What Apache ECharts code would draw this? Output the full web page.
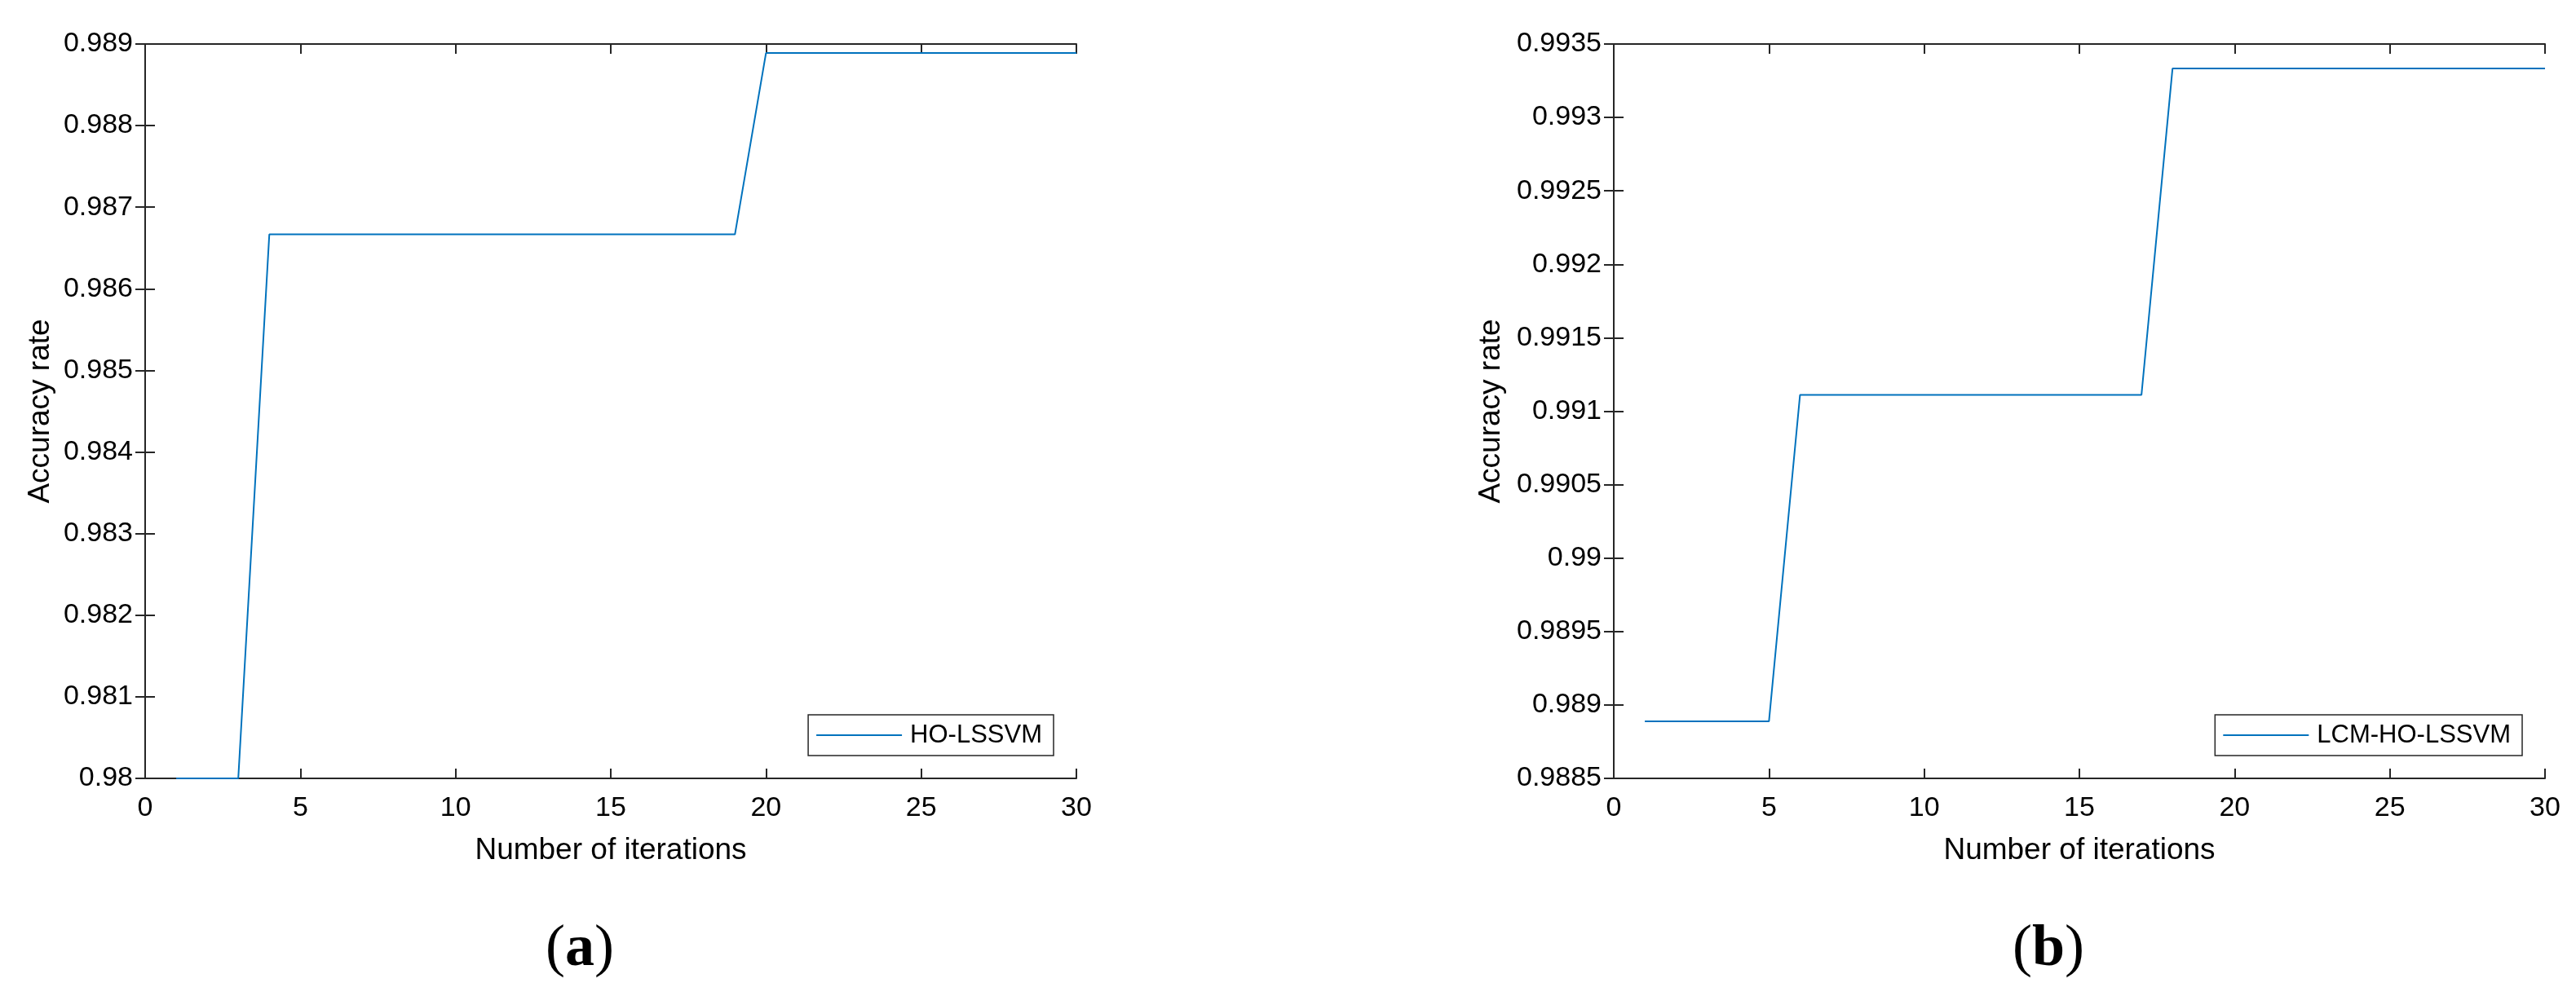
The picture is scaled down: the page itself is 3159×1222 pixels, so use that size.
<!DOCTYPE html>
<html>
<head>
<meta charset="utf-8">
<script src="https://cdn.jsdelivr.net/npm/echarts@6/dist/echarts.min.js"></script>
<style>
  html, body { margin: 0; padding: 0; background: #ffffff; }
  #chart { width: 3159px; height: 1222px; }
</style>
</head>
<body>
<div id="chart"></div>
<script>
// ---- Data ----
const iterations = [1, 2, 3, 4, 5, 6, 7, 8, 9, 10, 11, 12, 13, 14, 15, 16, 17, 18, 19, 20, 21, 22, 23, 24, 25, 26, 27, 28, 29, 30];

const hoLssvm = [
  0.98, 0.98, 0.98,
  0.986667, 0.986667, 0.986667, 0.986667, 0.986667, 0.986667, 0.986667, 0.986667,
  0.986667, 0.986667, 0.986667, 0.986667, 0.986667, 0.986667, 0.986667, 0.986667,
  0.988889, 0.988889, 0.988889, 0.988889, 0.988889, 0.988889, 0.988889, 0.988889,
  0.988889, 0.988889, 0.988889
];

const lcmHoLssvm = [
  0.988889, 0.988889, 0.988889, 0.988889, 0.988889,
  0.991111, 0.991111, 0.991111, 0.991111, 0.991111, 0.991111, 0.991111, 0.991111,
  0.991111, 0.991111, 0.991111, 0.991111,
  0.993333, 0.993333, 0.993333, 0.993333, 0.993333, 0.993333, 0.993333, 0.993333,
  0.993333, 0.993333, 0.993333, 0.993333, 0.993333
];

const seriesNames = ['HO-LSSVM', 'LCM-HO-LSSVM'];
const panelLabels = ['a', 'b'];
const xAxisTitle = 'Number of iterations';
const yAxisTitle = 'Accuracy rate';

const xRange = { min: 0, max: 30, interval: 5 };
const yRangeA = { min: 0.98, max: 0.989, interval: 0.001 };
const yRangeB = { min: 0.9885, max: 0.9935, interval: 0.0005 };

// ---- Styles ----
const FONT = '"Liberation Sans", Arial, Helvetica, sans-serif';
const AXIS_COLOR = '#262626';
const LINE_COLOR = '#0072BD';

const fmtY = v => String(parseFloat(Number(v).toFixed(4)));

function makeAxes(gridIndex, yr, yNameGap) {
  const axisLine = { show: true, lineStyle: { color: AXIS_COLOR, width: 2 } };
  const axisTick = { show: true, inside: true, length: 12, lineStyle: { color: AXIS_COLOR, width: 2 } };
  const xs = [
    {
      gridIndex, type: 'value', position: 'bottom',
      min: xRange.min, max: xRange.max, interval: xRange.interval,
      axisLine, axisTick, splitLine: { show: false },
      axisLabel: { show: true, margin: 20, color: '#000', fontFamily: FONT, fontSize: 34 },
      name: xAxisTitle, nameLocation: 'middle', nameGap: 70,
      nameTextStyle: { color: '#000', fontFamily: FONT, fontSize: 37 }
    },
    {
      gridIndex, type: 'value', position: 'top',
      min: xRange.min, max: xRange.max, interval: xRange.interval,
      axisLine, axisTick, splitLine: { show: false }, axisLabel: { show: false }
    }
  ];
  const ys = [
    {
      gridIndex, type: 'value', position: 'left',
      min: yr.min, max: yr.max, interval: yr.interval,
      axisLine, axisTick, splitLine: { show: false },
      axisLabel: { show: true, margin: 15, color: '#000', fontFamily: FONT, fontSize: 34, formatter: fmtY },
      name: yAxisTitle, nameLocation: 'middle', nameGap: yNameGap,
      nameTextStyle: { color: '#000', fontFamily: FONT, fontSize: 37 }
    },
    {
      gridIndex, type: 'value', position: 'right',
      min: yr.min, max: yr.max, interval: yr.interval,
      axisLine, axisTick, splitLine: { show: false }, axisLabel: { show: false }
    }
  ];
  return { xs, ys };
}

const axA = makeAxes(0, yRangeA, 110);
const axB = makeAxes(1, yRangeB, 132);

function pairs(xs, ys) { return xs.map((x, i) => [x, ys[i]]); }

function legendFor(name, rightPx) {
  return {
    data: [name],
    right: rightPx, top: 877,
    orient: 'horizontal',
    backgroundColor: '#ffffff',
    borderColor: AXIS_COLOR, borderWidth: 1.5, borderRadius: 0,
    padding: [8, 14, 8, 10],
    icon: 'rect', itemWidth: 105, itemHeight: 2,
    textStyle: { color: '#000', fontFamily: FONT, fontSize: 31, lineHeight: 34, padding: [0, 0, 0, 5] },
    selectedMode: false
  };
}

const chart = echarts.init(document.getElementById('chart'), null, { renderer: 'canvas' });

chart.setOption({
  backgroundColor: '#ffffff',
  animation: false,
  grid: [
    { left: 178, top: 54, width: 1142, height: 901 },
    { left: 1979, top: 54, width: 1142, height: 901 }
  ],
  xAxis: [...axA.xs, ...axB.xs],
  yAxis: [...axA.ys, ...axB.ys],
  legend: [legendFor(seriesNames[0], 3159 - 1292), legendFor(seriesNames[1], 3159 - 3093)],
  series: [
    {
      name: seriesNames[0], type: 'line', xAxisIndex: 0, yAxisIndex: 0,
      data: pairs(iterations, hoLssvm), showSymbol: false, symbol: 'none',
      lineStyle: { color: LINE_COLOR, width: 2 }, itemStyle: { color: LINE_COLOR }, z: 5
    },
    {
      name: seriesNames[1], type: 'line', xAxisIndex: 2, yAxisIndex: 2,
      data: pairs(iterations, lcmHoLssvm), showSymbol: false, symbol: 'none',
      lineStyle: { color: LINE_COLOR, width: 2 }, itemStyle: { color: LINE_COLOR }, z: 5
    }
  ],
  graphic: [
    {
      type: 'text', x: 711, y: 1165,
      style: {
        text: '{p|(}{b|' + panelLabels[0] + '}{p|)}',
        textAlign: 'center', textVerticalAlign: 'middle',
        rich: {
          p: { fontFamily: '"Liberation Serif", "Times New Roman", serif', fontSize: 72, fill: '#000' },
          b: { fontFamily: '"Liberation Serif", "Times New Roman", serif', fontSize: 72, fontWeight: 'bold', fill: '#000' }
        }
      }
    },
    {
      type: 'text', x: 2512, y: 1165,
      style: {
        text: '{p|(}{b|' + panelLabels[1] + '}{p|)}',
        textAlign: 'center', textVerticalAlign: 'middle',
        rich: {
          p: { fontFamily: '"Liberation Serif", "Times New Roman", serif', fontSize: 72, fill: '#000' },
          b: { fontFamily: '"Liberation Serif", "Times New Roman", serif', fontSize: 72, fontWeight: 'bold', fill: '#000' }
        }
      }
    }
  ]
});
</script>
</body>
</html>
